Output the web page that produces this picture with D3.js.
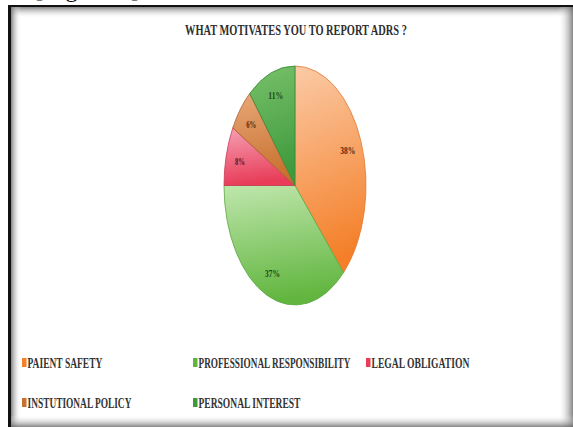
<!DOCTYPE html>
<html>
<head>
<meta charset="utf-8">
<script src="https://cdn.jsdelivr.net/npm/d3@7"></script>
<style>
  html, body { margin: 0; padding: 0; background: #fff; }
  svg { display: block; }
  .serif { font-family: "Liberation Serif", "DejaVu Serif", "Times New Roman", serif; }
</style>
</head>
<body>
<svg id="chart" width="573" height="427"></svg>
<script>
// Survey answers: what motivates reporting of ADRs (percent of respondents)
const categories = ["PAIENT SAFETY", "PROFESSIONAL RESPONSIBILITY", "LEGAL OBLIGATION", "INSTUTIONAL POLICY", "PERSONAL INTEREST"];
const values = [38, 37, 8, 6, 11];
const title = "WHAT MOTIVATES YOU TO REPORT ADRS ?";
const caption = "[Figure 5]";

// slice gradient stops (light top, saturated bottom) and outline colour
const sliceLight = ["#fbcaa6", "#bfe6ac", "#f5a0b4", "#e8a878", "#78c06a"];
const sliceDark  = ["#f47f28", "#62b640", "#e83c58", "#c8702e", "#3f9a3c"];
const sliceEdge  = ["#e07a35", "#5aa840", "#c83a55", "#a8602a", "#3a8a38"];
const labelInk   = ["#4a2a10", "#1f4a12", "#5a1020", "#4a2a10", "#1f4a12"];

const svg = d3.select("#chart");
const W = 573, H = 427;
const defs = svg.append("defs");

// squeeze a text horizontally to a given width (condensed face look)
function condense(sel, x, y, width, anchor) {
  sel.each(function () {
    const natural = this.getComputedTextLength();
    const k = width / natural;
    const x0 = anchor === "middle" ? x - width / 2 : x;
    d3.select(this).attr("x", 0).attr("y", 0)
      .attr("text-anchor", "start")
      .attr("transform", `translate(${x0},${y}) scale(${k},1)`);
  });
}

// ---- frame with inset shading ----
const fx0 = 8, fy0 = 5;
svg.append("rect").attr("x", fx0).attr("y", fy0).attr("width", W - fx0).attr("height", H - fy0).attr("fill", "#fff");

function edgeGrad(id, x1, y1, x2, y2, from, to) {
  const g = defs.append("linearGradient").attr("id", id)
    .attr("x1", x1).attr("y1", y1).attr("x2", x2).attr("y2", y2);
  g.append("stop").attr("offset", 0).attr("stop-color", from.c).attr("stop-opacity", from.o);
  g.append("stop").attr("offset", 1).attr("stop-color", to.c).attr("stop-opacity", to.o);
}
edgeGrad("gTop", 0, 0, 0, 1, {c: "#777", o: 0.9}, {c: "#fff", o: 0});
edgeGrad("gLeft", 0, 0, 1, 0, {c: "#777", o: 0.9}, {c: "#fff", o: 0});
edgeGrad("gRight", 0, 0, 1, 0, {c: "#fff", o: 0}, {c: "#666", o: 0.8});
edgeGrad("gBottom", 0, 0, 0, 1, {c: "#fff", o: 0}, {c: "#666", o: 0.8});

svg.append("rect").attr("x", fx0).attr("y", fy0 + 2).attr("width", W - fx0).attr("height", 11).attr("fill", "url(#gTop)");
svg.append("rect").attr("x", fx0 + 3).attr("y", fy0).attr("width", 10).attr("height", H - fy0).attr("fill", "url(#gLeft)");
svg.append("rect").attr("x", W - 15).attr("y", fy0).attr("width", 15).attr("height", H - fy0).attr("fill", "url(#gRight)");
svg.append("rect").attr("x", fx0).attr("y", H - 12).attr("width", W - fx0).attr("height", 12).attr("fill", "url(#gBottom)");

// dark outer border lines (top and left)
svg.append("rect").attr("x", fx0).attr("y", fy0).attr("width", W - fx0).attr("height", 2).attr("fill", "#111");
svg.append("rect").attr("x", fx0).attr("y", fy0).attr("width", 3).attr("height", H - fy0).attr("fill", "#111");

// caption peeking above the frame
svg.append("text")
  .attr("class", "serif")
  .attr("x", 35).attr("y", -3.5)
  .attr("font-size", 24)
  .attr("textLength", 104).attr("lengthAdjust", "spacing")
  .attr("fill", "#000")
  .text(caption);

// ---- title ----
svg.append("text")
  .attr("class", "serif")
  .attr("font-weight", "bold")
  .attr("font-size", 14.5)
  .attr("fill", "#2e2e2e")
  .text(title)
  .call(condense, 296, 35, 222, "middle");

// ---- elliptical pie ----
const cx = 295, cy = 185.5, rx = 71, ry = 119.5, R = 100;
const pie = d3.pie().sort(null).value(d => d)(values);
const arc = d3.arc().innerRadius(0).outerRadius(R);
const labelArc = d3.arc().innerRadius(R * 0.8).outerRadius(R * 0.8);

values.forEach((v, i) => {
  const g = defs.append("linearGradient").attr("id", "slice" + i)
    .attr("x1", 0).attr("y1", 0).attr("x2", 0.15).attr("y2", 1);
  g.append("stop").attr("offset", 0).attr("stop-color", sliceLight[i]);
  g.append("stop").attr("offset", 1).attr("stop-color", sliceDark[i]);
});

const pieG = svg.append("g")
  .attr("transform", `translate(${cx},${cy}) scale(${rx / R},${ry / R})`);

pieG.selectAll("path.slice")
  .data(pie)
  .join("path")
  .attr("class", "slice")
  .attr("d", arc)
  .attr("fill", (d, i) => `url(#slice${i})`)
  .attr("stroke", (d, i) => sliceEdge[i])
  .attr("stroke-width", 0.8)
  .attr("vector-effect", "non-scaling-stroke");

// percentage labels, placed in screen space from the scaled centroid
svg.append("g").selectAll("text")
  .data(pie)
  .join("text")
  .attr("class", "serif")
  .attr("font-weight", "bold")
  .attr("font-size", 10.5)
  .attr("fill", (d, i) => labelInk[i])
  .text(d => d.data + "%")
  .each(function (d) {
    const [lx, ly] = labelArc.centroid(d);
    const w = String(d.data).length > 1 ? 15 : 10;
    d3.select(this).call(condense, cx + lx * rx / R, cy + ly * ry / R + 3.5, w, "middle");
  });

// ---- legend ----
const legendPos = [
  {x: 22, y: 363}, {x: 193, y: 363}, {x: 366, y: 363},
  {x: 22, y: 403}, {x: 193, y: 403}
];
const legendWidth = [75, 152, 98, 104, 102];

const legend = svg.append("g").selectAll("g")
  .data(categories)
  .join("g")
  .attr("transform", (d, i) => `translate(${legendPos[i].x},${legendPos[i].y})`);

legend.append("rect")
  .attr("x", 0).attr("y", -5).attr("width", 4.5).attr("height", 9)
  .attr("fill", (d, i) => sliceDark[i]);

legend.append("text")
  .attr("class", "serif")
  .attr("font-weight", "bold")
  .attr("font-size", 14)
  .attr("fill", "#333")
  .text(d => d)
  .each(function (d, i) {
    d3.select(this).call(condense, 5.5, 5, legendWidth[i], "start");
  });
</script>
</body>
</html>
